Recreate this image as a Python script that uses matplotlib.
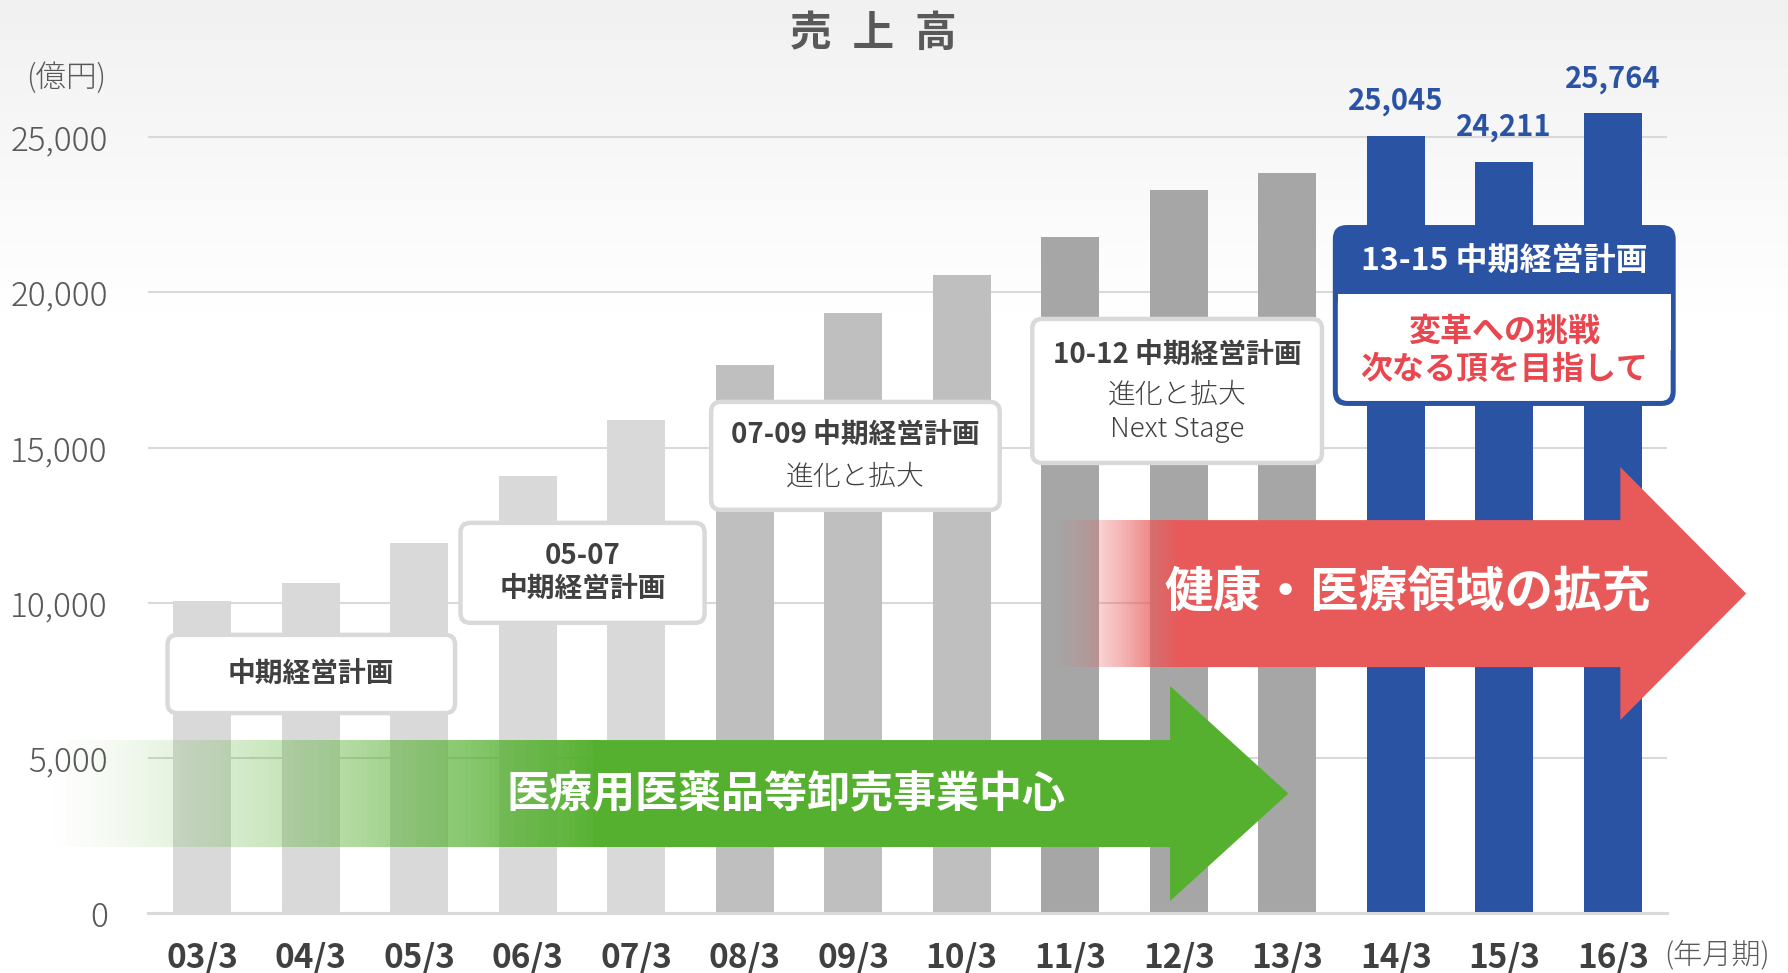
import numpy as np
import matplotlib
matplotlib.use('Agg')
import matplotlib.pyplot as plt
from matplotlib.patches import Rectangle, Polygon, FancyBboxPatch

plt.rcParams['font.family'] = ['Noto Sans CJK JP', 'DejaVu Sans']

# data (億円)
periods = ['03/3', '04/3', '05/3', '06/3', '07/3', '08/3', '09/3',
           '10/3', '11/3', '12/3', '13/3', '14/3', '15/3', '16/3']
sales = [10060, 10650, 11930, 14100, 15900, 17660, 19350,
         20560, 21800, 23310, 23860, 25045, 24211, 25764]
bar_colors = ['#d9d9d9'] * 5 + ['#bfbfbf'] * 3 + ['#a6a6a6'] * 3 + ['#2b53a3'] * 3
labeled = [11, 12, 13]
yticks = [0, 5000, 10000, 15000, 20000, 25000]

plan_boxes = [
    # x0, x1, y0, y1, lines
    (-0.32, 2.33, 6452, 8970, [('中期経営計画', 'bold', 7700)]),
    (2.38, 4.63, 9358, 12577, [('05-07', 'bold', 11500), ('中期経営計画', 'bold', 10440)]),
    (4.69, 7.35, 12996, 16473, [('07-09 中期経営計画', 'bold', 15400), ('進化と拡大', 'light', 14060)]),
    (7.65, 10.32, 14508, 19145, [('10-12 中期経営計画', 'bold', 17990), ('進化と拡大', 'light', 16700),
                                 ('Next Stage', 'light', 15600)]),
]

TXT = '#404040'
GRAY = '#595959'
BLUE = '#2b53a3'
RED = '#e85a5a'
GREEN = '#55b030'

fig = plt.figure(figsize=(17.88, 9.73), dpi=100)

# soft gray gradient at the top of the canvas
bg = fig.add_axes([0, 0, 1, 1], zorder=-10)
yy = np.linspace(0, 1, 400)[:, None]
t = np.clip((yy - 0.68) / 0.32, 0, 1)
shade = 1.0 - 0.055 * t
img = np.dstack([shade, shade, shade])
bg.imshow(img, origin='lower', aspect='auto', extent=[0, 1, 0, 1])
bg.axis('off')

ax = fig.add_axes([148 / 1788, 1 - 913.4 / 973, (1667 - 148) / 1788, (913.4 - 44) / 973])
ax.patch.set_alpha(0)
x = np.arange(len(periods))
ax.bar(x, sales, width=0.53, color=bar_colors, zorder=2)
ax.set_xlim(-0.5, 13.5)
ax.set_ylim(0, 28000)
ax.set_yticks(yticks)
ax.set_yticklabels([f'{v:,}' for v in yticks], fontsize=24, color=GRAY, fontweight='light')
ax.set_xticks(x)
ax.set_xticklabels(periods, fontsize=24, color=TXT, fontweight='bold')
ax.tick_params(axis='both', length=0)
ax.tick_params(axis='y', pad=29)
ax.tick_params(axis='x', pad=20)
ax.grid(axis='y', color='#d9d9d9', lw=1.5)
ax.set_axisbelow(True)
for s in ['top', 'right', 'left']:
    ax.spines[s].set_visible(False)
ax.spines['bottom'].set_color('#d9d9d9')
ax.spines['bottom'].set_linewidth(2.2)

for i in labeled:
    ax.annotate(f'{sales[i]:,}', (x[i], sales[i]), xytext=(0, 25), textcoords='offset points',
                ha='center', va='center', fontsize=21, fontweight='bold', color=BLUE)


def grad_arrow(x_start, x_solid, x_head, x_tip, y_lo, y_hi, h_lo, h_hi, color, n=90):
    edges = np.linspace(x_start, x_solid, n + 1)
    for i in range(n):
        a = ((i + 0.5) / n) ** 1.3
        ax.add_patch(Rectangle((edges[i], y_lo), edges[i + 1] - edges[i], y_hi - y_lo,
                               fc=color, alpha=a, lw=0, antialiased=False, clip_on=False, zorder=3))
    ym = (y_lo + y_hi) / 2
    xs = edges[-2]
    pts = [(xs, y_lo), (x_head, y_lo), (x_head, h_lo), (x_tip, ym),
           (x_head, h_hi), (x_head, y_hi), (xs, y_hi)]
    ax.add_patch(Polygon(pts, closed=True, fc=color, lw=0, clip_on=False, zorder=3))


grad_arrow(-1.42, 3.66, 8.92, 10.01, 2138, 5583, 399, 7323, GREEN)
ax.text(5.38, 3845, '医療用医薬品等卸売事業中心', ha='center', va='center',
        fontsize=31, fontweight='bold', color='white', zorder=5)

grad_arrow(7.85, 9.0, 13.07, 14.23, 7933, 12666, 6227, 14375, RED)
ax.text(11.11, 10348, '健康・医療領域の拡充', ha='center', va='center',
        fontsize=35, fontweight='bold', color='white', zorder=5)

ASP = 3493  # data y-units per x-unit for equal pixel rounding
for x0, x1, y0, y1, lines in plan_boxes:
    ax.add_patch(FancyBboxPatch((x0, y0), x1 - x0, y1 - y0,
                                boxstyle='round,pad=0,rounding_size=0.09', mutation_aspect=ASP,
                                fc='white', ec='#d9d9d9', lw=3.2, clip_on=False, zorder=4))
    for txt, w, ty in lines:
        ax.text((x0 + x1) / 2, ty, txt, ha='center', va='center', fontsize=20,
                fontweight=w, color=TXT, zorder=5)

# 13-15 plan box
bx0, bx1, by0, by1, hdr = 10.42, 13.58, 16343, 22170, 19949
ax.add_patch(FancyBboxPatch((bx0, by0), bx1 - bx0, by1 - by0,
                            boxstyle='round,pad=0,rounding_size=0.13', mutation_aspect=ASP,
                            fc=BLUE, ec='none', clip_on=False, zorder=4))
ix, iy = 0.046, 161
ax.add_patch(FancyBboxPatch((bx0 + ix, by0 + iy), bx1 - bx0 - 2 * ix, hdr - by0 - iy,
                            boxstyle='round,pad=0,rounding_size=0.09', mutation_aspect=ASP,
                            fc='white', ec='none', clip_on=False, zorder=4))
ax.add_patch(Rectangle((bx0 + ix, (by0 + hdr) / 2), bx1 - bx0 - 2 * ix, hdr - (by0 + hdr) / 2,
                       fc='white', lw=0, clip_on=False, zorder=4))
ax.text((bx0 + bx1) / 2, 21000, '13-15 中期経営計画', ha='center', va='center',
        fontsize=23, fontweight='bold', color='white', zorder=5)
ax.text((bx0 + bx1) / 2, 18720, '変革への挑戦', ha='center', va='center',
        fontsize=23, fontweight='bold', color='#e8474f', zorder=5)
ax.text((bx0 + bx1) / 2, 17510, '次なる頂を目指して', ha='center', va='center',
        fontsize=23, fontweight='bold', color='#e8474f', zorder=5)

# titles and units
fig.text(873 / 1788, 1 - 34 / 973, '売\u2002上\u2002高', ha='center', va='center',
         fontsize=30, fontweight='bold', color=GRAY)
fig.text(66 / 1788, 1 - 78 / 973, '(億円)', ha='center', va='center',
         fontsize=22, fontweight='light', color=GRAY)
fig.text(1664 / 1788, 1 - 955 / 973, '(年月期)', ha='left', va='center',
         fontsize=21, fontweight='light', color=GRAY)

fig.savefig('out.png', dpi=100)
